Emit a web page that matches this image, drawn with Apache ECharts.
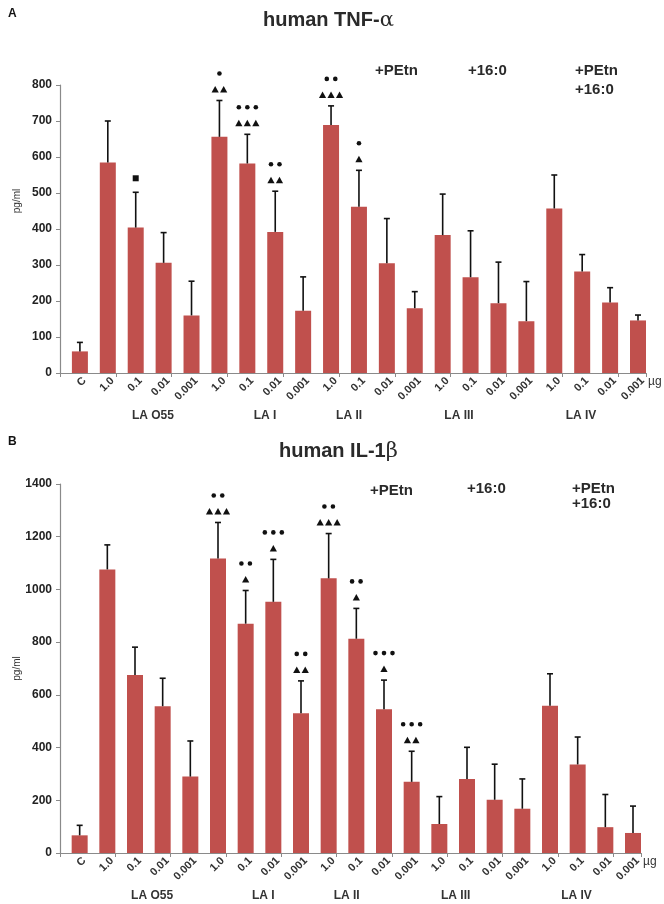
<!DOCTYPE html>
<html>
<head>
<meta charset="utf-8">
<script src="https://cdn.jsdelivr.net/npm/echarts@6/dist/echarts.min.js"></script>
<style>
  html, body { margin: 0; padding: 0; background: #fff; }
  #main { width: 664px; height: 904px; }
</style>
</head>
<body>
<div id="main"></div>
<script>
// x categories
const doseLabels = ['C',
  '1.0', '0.1', '0.01', '0.001',
  '1.0', '0.1', '0.01', '0.001',
  '1.0', '0.1', '0.01', '0.001',
  '1.0', '0.1', '0.01', '0.001',
  '1.0', '0.1', '0.01', '0.001'];
const groupNames = ['LA O55', 'LA I', 'LA II', 'LA III', 'LA IV'];

// panel A: human TNF-alpha (pg/ml), mean and SD
const tnfMean = [60, 585, 404, 306, 160, 656, 582, 392, 173, 689, 462, 305, 180, 383, 266, 194, 144, 457, 282, 196, 146];
const tnfSd = [25, 115, 98, 84, 95, 101, 81, 113, 94, 53, 101, 124, 46, 114, 129, 114, 110, 93, 47, 41, 15];
const tnfDots = [0, 0, 0, 0, 0, 1, 3, 2, 0, 2, 1, 0, 0, 0, 0, 0, 0, 0, 0, 0, 0];
const tnfTris = [0, 0, 0, 0, 0, 2, 3, 2, 0, 3, 1, 0, 0, 0, 0, 0, 0, 0, 0, 0, 0];
const tnfSquares = [0, 0, 1, 0, 0, 0, 0, 0, 0, 0, 0, 0, 0, 0, 0, 0, 0, 0, 0, 0, 0];

// panel B: human IL-1beta (pg/ml)
const il1Mean = [67, 1076, 675, 557, 290, 1117, 870, 953, 530, 1042, 813, 545, 270, 110, 281, 202, 168, 559, 336, 98, 76];
const il1Sd = [38, 93, 106, 106, 135, 137, 126, 161, 123, 170, 115, 111, 116, 104, 120, 135, 113, 121, 104, 124, 102];
const il1Dots = [0, 0, 0, 0, 0, 2, 2, 3, 2, 2, 2, 3, 3, 0, 0, 0, 0, 0, 0, 0, 0];
const il1Tris = [0, 0, 0, 0, 0, 3, 1, 1, 2, 3, 1, 1, 2, 0, 0, 0, 0, 0, 0, 0, 0];
const il1Squares = [0, 0, 0, 0, 0, 0, 0, 0, 0, 0, 0, 0, 0, 0, 0, 0, 0, 0, 0, 0, 0];

const FONT = '"Liberation Sans", Arial, sans-serif';
const BAR_COLOR = '#C0504D';
const AXIS_COLOR = '#8a8a8a';
const BAR_W = 16;
const LABEL_SHIFT = 0.38;          // dose labels sit right of category centre
const groupLabelPos = [2.83, 6.85, 9.86, 13.8, 18.17];

const chart = echarts.init(document.getElementById('main'));

// error bar + significance symbols, drawn at the right-aligned bar
function renderErr(params, api) {
  const i = api.value(0);
  const mean = api.value(1);
  const sd = api.value(2);
  const nDots = api.value(3);
  const nTris = api.value(4);
  const nSq = api.value(5);
  const catW = api.size([1, 0])[0];
  const x = api.coord([i, mean])[0] + catW / 2 - BAR_W / 2;
  const y0 = api.coord([i, mean])[1];
  const top = api.coord([i, mean + sd])[1];
  const line = { stroke: '#111', lineWidth: 1.6 };
  const children = [
    { type: 'line', shape: { x1: x, y1: y0, x2: x, y2: top }, style: line },
    { type: 'line', shape: { x1: x - 3, y1: top, x2: x + 3, y2: top }, style: line }
  ];
  const step = 8.5;
  const triY = top - 11;
  for (let k = 0; k < nTris; k++) {
    const cx = x + (k - (nTris - 1) / 2) * step;
    children.push({
      type: 'polygon',
      shape: { points: [[cx - 3.6, triY + 3], [cx + 3.6, triY + 3], [cx, triY - 3.5]] },
      style: { fill: '#111' }
    });
  }
  const dotY = nTris ? triY - 16 : top - 12;
  for (let k = 0; k < nDots; k++) {
    const cx = x + (k - (nDots - 1) / 2) * step;
    children.push({ type: 'circle', shape: { cx: cx, cy: dotY, r: 2.3 }, style: { fill: '#111' } });
  }
  if (nSq) {
    children.push({ type: 'rect', shape: { x: x - 3, y: top - 17, width: 6, height: 6 }, style: { fill: '#111' } });
  }
  return { type: 'group', children: children };
}

function panel(gi, grid, mean, sd, dots, tris, squares, max, interval, nameShift) {
  const catW = (664 - grid.left - grid.right) / doseLabels.length;
  const shift = catW / 2 - BAR_W / 2;
  const gap = ((2 * shift) / BAR_W - 1) * 100;
  const xAxes = [
    {
      type: 'category', gridIndex: gi, position: 'bottom', data: doseLabels,
      axisLine: { onZero: false, lineStyle: { color: AXIS_COLOR, width: 1.2 } },
      axisTick: { show: true, length: 4, lineStyle: { color: AXIS_COLOR } },
      axisLabel: { show: false },
      name: 'µg', nameLocation: 'end', nameGap: 2,
      nameTextStyle: { fontSize: 12, color: '#333', fontFamily: FONT, verticalAlign: 'top', padding: [3, 0, 0, 0] }
    },
    {
      type: 'value', gridIndex: gi, position: 'bottom', min: -0.5, max: 20.5,
      axisLine: { show: false }, axisTick: { show: false }, splitLine: { show: false },
      axisLabel: {
        customValues: doseLabels.map((d, i) => i + LABEL_SHIFT),
        formatter: (v) => doseLabels[Math.round(v - LABEL_SHIFT)],
        rotate: 45, margin: 6, fontSize: 11, fontWeight: 'bold', color: '#333', fontFamily: FONT
      }
    },
    {
      type: 'value', gridIndex: gi, position: 'bottom', min: -0.5, max: 20.5,
      axisLine: { show: false }, axisTick: { show: false }, splitLine: { show: false },
      axisLabel: {
        customValues: groupLabelPos,
        formatter: (v) => {
          let best = 0;
          groupLabelPos.forEach((p, k) => { if (Math.abs(p - v) < Math.abs(groupLabelPos[best] - v)) best = k; });
          return groupNames[best];
        },
        margin: 37, fontSize: 12, fontWeight: 'bold', color: '#333', fontFamily: FONT
      }
    }
  ];
  const yAxis = {
    type: 'value', gridIndex: gi, min: 0, max: max, interval: interval,
    axisLine: { show: true, onZero: false, lineStyle: { color: AXIS_COLOR, width: 1.2 } },
    axisTick: { show: true, length: 4, lineStyle: { color: AXIS_COLOR } },
    splitLine: { show: false },
    axisLabel: { fontSize: 12, fontWeight: 'bold', color: '#222', fontFamily: FONT, margin: 8, formatter: (v) => String(v) },
    name: 'pg/ml', nameLocation: 'middle', nameGap: 38, nameMoveOverlap: false,
    nameTextStyle: { fontSize: 10, color: '#333', fontFamily: FONT, padding: nameShift }
  };
  const xi = gi * 3;
  const series = [
    {
      type: 'bar', xAxisIndex: xi, yAxisIndex: gi, barWidth: BAR_W, barGap: gap + '%',
      data: mean.map(() => 0), itemStyle: { color: 'transparent' }, silent: true
    },
    {
      type: 'bar', xAxisIndex: xi, yAxisIndex: gi, barWidth: BAR_W, barGap: gap + '%',
      data: mean, itemStyle: { color: BAR_COLOR }
    },
    {
      type: 'custom', xAxisIndex: xi, yAxisIndex: gi, renderItem: renderErr,
      encode: { x: 0, y: 1 }, z: 5,
      data: mean.map((m, i) => [i, m, sd[i], dots[i], tris[i], squares[i]])
    }
  ];
  return { xAxes, yAxis, series };
}

const gridA = { left: 60, right: 18, top: 85, bottom: 531, outerBoundsMode: 'none', containLabel: false };
const gridB = { left: 60, right: 23, top: 484, bottom: 51, outerBoundsMode: 'none', containLabel: false };
const pA = panel(0, gridA, tnfMean, tnfSd, tnfDots, tnfTris, tnfSquares, 800, 100, [0, 0, 0, 56]);
const pB = panel(1, gridB, il1Mean, il1Sd, il1Dots, il1Tris, il1Squares, 1400, 200, [0, 0, 0, 0]);

const titleStyle = {
  fontSize: 20, fontWeight: 'bold', color: '#2a2a2a', fontFamily: FONT,
  rich: { g: { fontSize: 21, fontWeight: 'normal', color: '#2a2a2a', fontFamily: '"DejaVu Serif", serif' } }
};

function note(text, left, top, lh) {
  return {
    type: 'text', left: left, top: top,
    style: { text: text, fontSize: 15, fontWeight: 'bold', fill: '#2a2a2a', fontFamily: FONT, lineHeight: lh }
  };
}

const option = {
  animation: false,
  backgroundColor: '#fff',
  title: [
    { text: 'human TNF-{g|α}', left: 258, top: 5, textStyle: titleStyle },
    { text: 'human IL-1{g|β}', left: 274, top: 436, textStyle: titleStyle }
  ],
  grid: [gridA, gridB],
  xAxis: pA.xAxes.concat(pB.xAxes),
  yAxis: [pA.yAxis, pB.yAxis],
  series: pA.series.concat(pB.series),
  graphic: [
    { type: 'text', left: 8, top: 8, style: { text: 'A', fontSize: 12, fontWeight: 'bold', fill: '#111', fontFamily: FONT } },
    { type: 'text', left: 8, top: 436, style: { text: 'B', fontSize: 12, fontWeight: 'bold', fill: '#111', fontFamily: FONT } },
    note('+PEtn', 375, 61, 19),
    note('+16:0', 468, 61, 19),
    note('+PEtn\n+16:0', 575, 61, 19),
    note('+PEtn', 370, 483, 15),
    note('+16:0', 467, 481, 15),
    note('+PEtn\n+16:0', 572, 481, 15)
  ]
};

chart.setOption(option);
</script>
</body>
</html>
